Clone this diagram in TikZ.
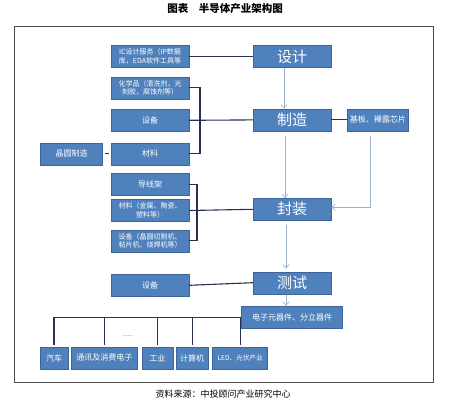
\documentclass[tikz,border=0pt]{standalone}
\usepackage{fontspec}
\setmainfont{Noto Sans CJK SC}
\usetikzlibrary{positioning,arrows.meta}
\definecolor{boxblue}{RGB}{79,129,189}
\definecolor{boxedge}{RGB}{64,100,152}
\definecolor{linknavy}{RGB}{38,50,82}
\definecolor{flowgrey}{RGB}{158,176,204}
\tikzset{
    stagebox/.style={draw=boxedge, fill=boxblue, text=white, minimum width=78pt, minimum height=22pt, inner sep=1pt, font=\fontsize{15}{15}\selectfont},
    inputbox/.style={draw=boxedge, fill=boxblue, text=white, align=center, minimum width=78pt, minimum height=22pt, inner sep=1pt, font=\fontsize{7}{8.5}\selectfont},
    wordbox/.style={inputbox, font=\fontsize{8}{9}\selectfont},
    usebox/.style={draw=boxedge, fill=boxblue, text=white, minimum height=22pt, inner sep=0.5pt, font=\fontsize{8}{9}\selectfont},
    linkline/.style={draw=linknavy, line width=1.1pt},
    flowarrow/.style={draw=flowgrey, line width=0.7pt, -{Straight Barb[length=3.5pt,width=6pt]}},
    outerframe/.style={draw=black!70, line width=0.9pt}
}
\begin{document}
\begin{tikzpicture}[x=1pt, y=-1pt]
    \useasboundingbox (0,0) rectangle (450,400);
    \node[font=\bfseries\fontsize{10.5}{12}\selectfont] (title) at (225,9) {图表　半导体产业架构图};
    \draw[outerframe] (14,26) rectangle (433,382);

    \node[stagebox] (design) at (292,56.5) {设计};
    \node[stagebox, below=41pt of design] (fab) {制造};
    \node[stagebox, below=67pt of fab] (pack) {封装};
    \node[stagebox, below=51pt of pack] (testing) {测试};
    \node[usebox, minimum width=101pt, below=12pt of testing] (device) {电子元器件、分立器件};
    \node[usebox, minimum width=61pt, right=16pt of fab] (substrate) {基板、裸露芯片};

    \node[inputbox] (icserv) at (150,56.5) {IC设计服务（IP数据\\库，EDA软件工具等};
    \node[inputbox, below=9pt of icserv] (chem) {化学品（清洗剂，光\\刻胶，腐蚀剂等）};
    \node[wordbox, below=10pt of chem] (fabeq) {设备};
    \node[wordbox, below=11pt of fabeq] (fabmat) {材料};
    \node[usebox, minimum width=62pt, left=8pt of fabmat] (wafer) {晶圆制造};
    \node[wordbox, below=8pt of fabmat] (leadframe) {导线架};
    \node[inputbox, below=4pt of leadframe] (pkmat) {材料（金属、陶瓷、\\塑料等）};
    \node[inputbox, below=8pt of pkmat] (pkeq) {设备（晶圆切割机、\\粘片机、烧焊机等）};
    \node[wordbox, below=22pt of pkeq] (testeq) {设备};

    \node[usebox, minimum width=28pt] (car) at (54,358) {汽车};
    \node[usebox, minimum width=66pt, right=3pt of car] (comm) {通讯及消费电子};
    \node[usebox, minimum width=31pt, right=4pt of comm] (industry) {工业};
    \node[usebox, minimum width=32pt, right=3pt of industry] (computer) {计算机};
    \node[usebox, minimum width=55pt, font=\fontsize{6.6}{8}\selectfont, right=4pt of computer] (ledpv) {LED、光伏产业};
    \node[font=\fontsize{6}{6}\selectfont, text=linknavy] (more) at (128,336) {......};

    \node[font=\fontsize{9}{10}\selectfont] (source) at (223,394) {资料来源：中投顾问产业研究中心};

    \coordinate (fabjoin) at (200,119.5);
    \coordinate (packjoin) at (197,208.5);

    \draw[linkline] (icserv.east) -- (design.west);
    \draw[linkline] (chem.east) -| (fabjoin) |- (fabmat.east);
    \draw[linkline] (fabeq.east) -- (fab.west);
    \draw[linkline, shorten <=2pt, shorten >=2pt] (wafer.east) -- (fabmat.west);
    \draw[linkline] (fab.east) -- (substrate.west);
    \draw[linkline] (leadframe.east) -| (packjoin) |- (pkeq.east);
    \draw[linkline] (pkmat.east) -- (pack.west);
    \draw[linkline] (testeq.east) -- (testing.west);
    \draw[linkline, shorten >=2pt] (device.west) -| (car.north);
    \foreach \use in {comm,industry,computer,ledpv}
        \draw[linkline, shorten >=2pt] (\use.north |- device.west) -- (\use.north);

    \draw[flowarrow] ([xshift=-8pt]design.south) -- ([xshift=-8pt]fab.north);
    \draw[flowarrow, shorten <=5pt] ([xshift=-7pt]fab.south) -- ([xshift=-7pt]pack.north);
    \draw[flowarrow, shorten <=5pt] ([xshift=-8pt]substrate.south) |- ([yshift=2pt]pack.east);
    \draw[flowarrow, shorten <=4pt, shorten >=3pt] ([xshift=-6pt]pack.south) -- ([xshift=-6pt]testing.north);
    \draw[flowarrow, shorten <=1pt] ([xshift=-6pt]testing.south) -- ([xshift=-6pt]device.north);
\end{tikzpicture}
\end{document}
